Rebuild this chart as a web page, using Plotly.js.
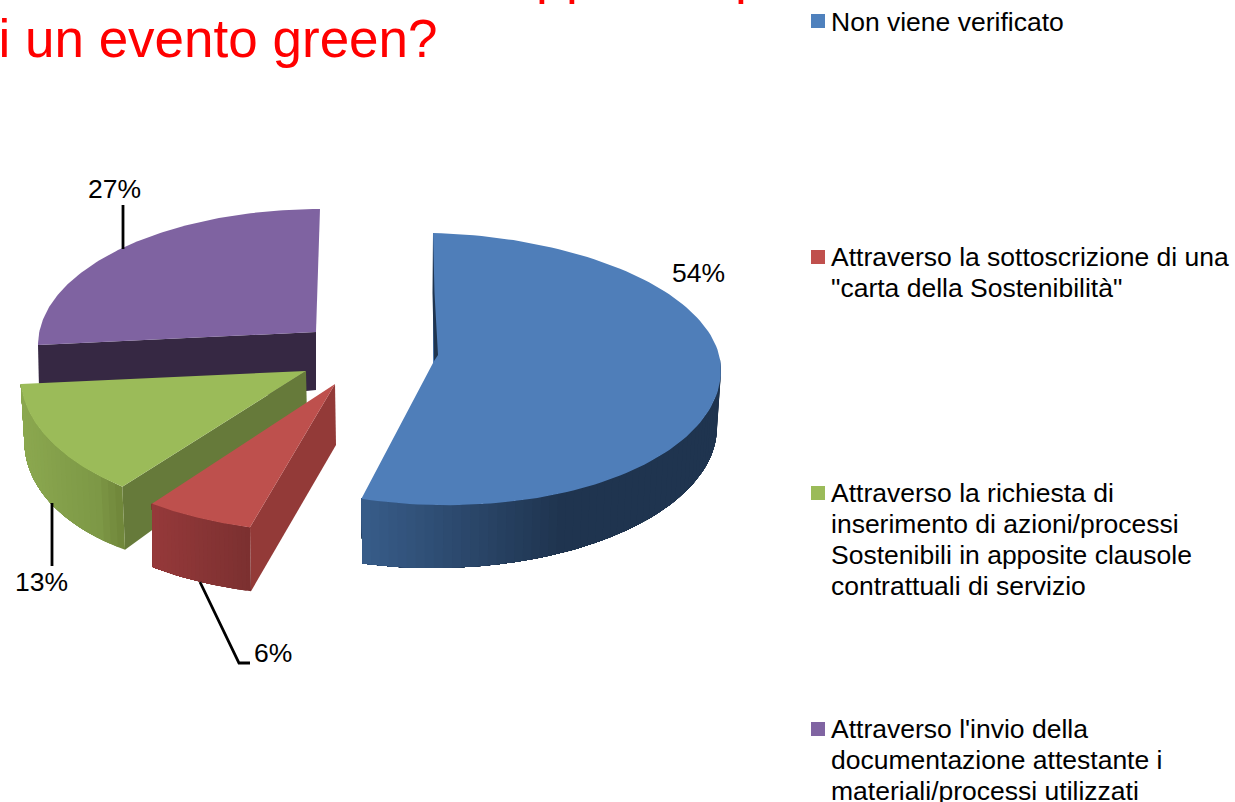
<!DOCTYPE html>
<html><head><meta charset="utf-8">
<script src="https://cdn.plot.ly/plotly-3.0.1.min.js"></script>
<style>html,body{margin:0;padding:0;background:#fff;overflow:hidden}</style>
</head><body><div id="chart" style="width:1235px;height:802px"></div>
<script>
// ---- data ----
const categories = ["Non viene verificato",
  "Attraverso la sottoscrizione di una \"carta della Sostenibilità\"",
  "Attraverso la richiesta di inserimento di azioni/processi Sostenibili in apposite clausole contrattuali di servizio",
  "Attraverso l'invio della documentazione attestante i materiali/processi utilizzati"];
const values = [54, 6, 13, 27];
const legendLines = [["Non viene verificato"],
  ["Attraverso la sottoscrizione di una", "\"carta della Sostenibilità\""],
  ["Attraverso la richiesta di", "inserimento di azioni/processi", "Sostenibili in apposite clausole", "contrattuali di servizio"],
  ["Attraverso l'invio della", "documentazione attestante i", "materiali/processi utilizzati"]];
const titleText = "i un evento green?";
const clippedTitleLetters = ["p", "p", "p"];

// ---- styling and projection of the tilted, exploded pie ----
const topColors = ["#4F7EB9", "#BE504D", "#9BBB59", "#7F63A1"];
const legendColors = ["#4F81BD", "#C0504D", "#9BBB59", "#8064A2"];
const wallColors = [null, "#933A38", "#667A3A", "#362843"];
const rimStops = [
  [[361,"#385D8A"],[560,"#1F344F"],[721,"#1F344F"]],
  [[154,"#95393A"],[252,"#7B3030"]],
  [[25,"#8BA84F"],[100,"#7D9846"],[125,"#6F8539"]],
  [[38,"#362843"],[320,"#362843"]]
];
// top / bottom face ellipses: c=centre, a=apex, r=radii, rb=radius for the back half, s,t=skew
const topGeo = [
  {cx:433,cy:363,rx:288,ry:142,rb:130,s:0,t:7},
  {cx:335,cy:384,rx:295,ry:148,s:12,t:0},
  {cx:306,cy:371,rx:285,ry:147,s:20,t:5.5},
  {cx:320,cy:345,rx:282,ry:136,s:0,t:0,ax:316,ay:332,warp:90/97.2}
];
const botGeo = [
  {cx:433,cy:427,rx:284,ry:141,rb:130,s:0,t:0},
  {cx:336,cy:445,rx:295,ry:151,s:12,t:0},
  {cx:307,cy:417,rx:282,ry:155,s:20,t:-12.7},
  {cx:316,cy:390,rx:278,ry:123,s:4,t:-13}
];
const leaderPaths = [[[123,205],[123,249]], [[52,503],[52,566]], [[200,582],[239,663],[250,663]]];
const labelPos = [[698,273],[273,653],[41,582],[114,189]];
const legendY = [[22],[257,288],[493,524,555,586],[729,760,791]];
const swatchY = [21,257,493,729];
const clippedX = [534.5,564.5,733.5];

function pt(g, deg){
  const d = g.warp ? 360-(360-deg)*g.warp : deg;
  const a = d*Math.PI/180, c = Math.cos(a), s = Math.sin(a);
  const ry = (c > 0 && g.rb) ? g.rb : g.ry;
  return [g.cx + g.rx*s + g.s*c, g.cy - ry*c + g.t*s];
}
function apex(g){ return [g.ax===undefined?g.cx:g.ax, g.ay===undefined?g.cy:g.ay]; }
function arc(g, a0, a1, n){ const o=[]; for(let i=0;i<=n;i++) o.push(pt(g, a0+(a1-a0)*i/n)); return o; }
function hex(c){ return [1,3,5].map(i=>parseInt(c.substr(i,2),16)); }
function grad(stops, x){
  if (x <= stops[0][0]) return stops[0][1];
  for (let i=1;i<stops.length;i++) if (x <= stops[i][0]) {
    const f=(x-stops[i-1][0])/(stops[i][0]-stops[i-1][0]), A=hex(stops[i-1][1]), B=hex(stops[i][1]);
    return "rgb("+A.map((v,k)=>Math.round(v+(B[k]-v)*f)).join(",")+")";
  }
  return stops[stops.length-1][1];
}
function poly(points, color){
  return {type:"scatter", mode:"lines", x:points.map(p=>p[0]), y:points.map(p=>p[1]), fill:"toself",
    fillcolor:color, line:{color:color, width:0}, hoverinfo:"skip", showlegend:false};
}
// slice angle spans from the values (clockwise from 12 o'clock)
const total = values.reduce((a,b)=>a+b,0);
let cum = 0;
const spans = values.map(v=>{ const s=[cum/total*360,(cum+v)/total*360]; cum+=v; return s; });

function sliceTraces(i){
  const [a0,a1] = spans[i], T=topGeo[i], B=botGeo[i], out=[];
  if (i!==0) out.push(poly([pt(T,a0),apex(T),apex(B),pt(B,a0)], wallColors[i]));
  if (i!==3){ // curved rim: overlapping strips carry the shading without seams
    const from = i===0 ? 85 : a0, to = a1, n = i===0 ? 60 : 24;
    for (let k=0;k<n;k++){
      const p=from+(to-from)*k/n, q=from+(to-from)*(k+1)/n;
      out.push(poly(arc(T,p,to,n-k).concat(arc(B,to,p,n-k)), grad(rimStops[i], pt(B,(p+q)/2)[0])));
    }
  }
  out.push(poly([apex(T)].concat(arc(T,a0,a1,120)), topColors[i]));
  if (i===0){ // thin inner wall sliver at 12 o'clock
    const P=pt(T,0);
    out.push(poly([P,[P[0]+1.5,P[1]+60],[P[0]+5,P[1]+122],[P[0]+1,P[1]+128],[P[0]-0.5,P[1]+60]], "#1F344F"));
  }
  return out;
}
const traces = [];
[3,2,1,0].forEach(i=>traces.push(...sliceTraces(i)));
leaderPaths.forEach(p=>traces.push({type:"scatter",mode:"lines",x:p.map(q=>q[0]),y:p.map(q=>q[1]),
  line:{color:"#000",width:2.8},hoverinfo:"skip",showlegend:false}));
traces.push({type:"scatter",mode:"markers",x:swatchY.map(()=>818),y:swatchY,
  marker:{symbol:"square",size:14,color:legendColors,line:{width:0}},hoverinfo:"skip",showlegend:false});

const FONT = "Liberation Sans, Arial, sans-serif";
const annotations = [];
values.forEach((v,i)=>annotations.push({x:labelPos[i][0],y:labelPos[i][1],xref:"x",yref:"y",text:v+"%",showarrow:false,
  font:{family:FONT,size:26.5,color:"#000"},xanchor:"center",yanchor:"middle"}));
legendLines.forEach((ls,i)=>ls.forEach((t,j)=>annotations.push({x:831,y:legendY[i][j],xref:"x",yref:"y",text:t,showarrow:false,
  font:{family:FONT,size:26.5,color:"#000"},xanchor:"left",yanchor:"middle",xshift:-2})));
clippedTitleLetters.forEach((t,i)=>annotations.push({x:clippedX[i],y:0,xref:"x",yref:"y",text:t,showarrow:false,
  font:{family:FONT,size:53,color:"#FF0000"},xanchor:"left",yanchor:"bottom",yshift:-5,borderpad:0}));

Plotly.newPlot("chart", traces, {
  width:1235, height:802, margin:{l:0,r:0,t:0,b:0}, paper_bgcolor:"#fff", plot_bgcolor:"#fff", showlegend:false,
  xaxis:{range:[0,1235],visible:false,fixedrange:true},
  yaxis:{range:[802,0],visible:false,fixedrange:true},
  title:{text:titleText,x:218/1235,xanchor:"center",xref:"paper",y:1-38.5/802,yanchor:"middle",
    font:{family:FONT,size:53,color:"#FF0000"}},
  annotations
},{staticPlot:true,displayModeBar:false});
</script></body></html>
